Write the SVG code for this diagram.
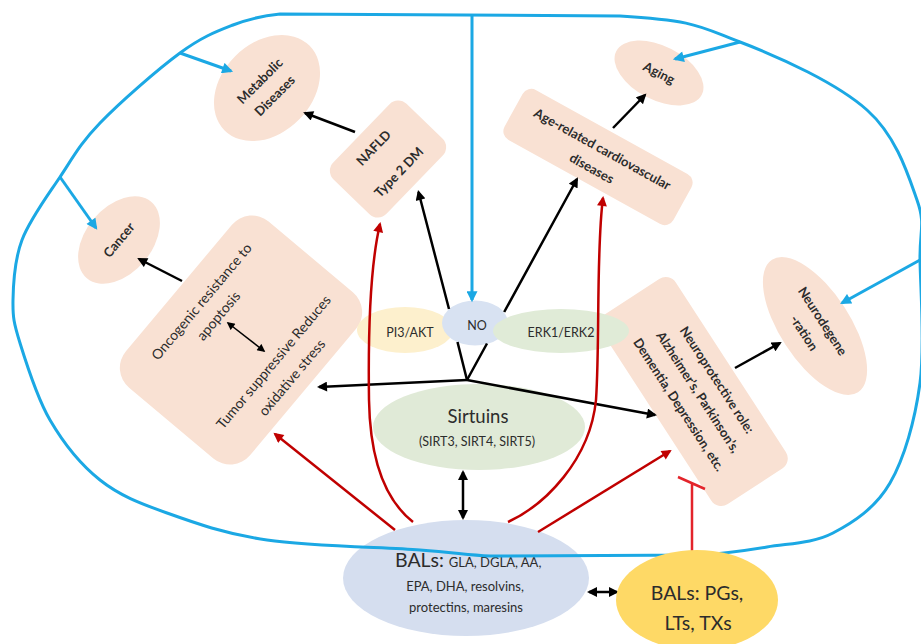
<svg xmlns="http://www.w3.org/2000/svg" width="921" height="644" viewBox="0 0 921 644">
<defs>
<style>
.peach{fill:#f9e1d3}
.lbl{font-family:Lato,"Open Sans","Liberation Sans",sans-serif;fill:#2c2c2c;text-anchor:middle}
.b{font-weight:bold}
.blk{stroke:#000;stroke-width:2.5;fill:none}
.thin{stroke-width:1.5}
.red{stroke:#c00000;stroke-width:2.5;fill:none}
.blu{stroke:#1ba8e4;stroke-width:3;fill:none}
</style>
<marker id="mk" viewBox="0 0 10 10" refX="8" refY="5" markerUnits="userSpaceOnUse" markerWidth="11" markerHeight="10" orient="auto-start-reverse"><path d="M0,0L10,5L0,10z" fill="#000"/></marker>
<marker id="mks" viewBox="0 0 10 10" refX="8" refY="5" markerUnits="userSpaceOnUse" markerWidth="9" markerHeight="8" orient="auto-start-reverse"><path d="M0,0L10,5L0,10z" fill="#000"/></marker>
<marker id="mr" viewBox="0 0 10 10" refX="8" refY="5" markerUnits="userSpaceOnUse" markerWidth="11" markerHeight="10" orient="auto"><path d="M0,0L10,5L0,10z" fill="#c00000"/></marker>
<marker id="mb" viewBox="0 0 10 10" refX="8" refY="5" markerUnits="userSpaceOnUse" markerWidth="12" markerHeight="11" orient="auto"><path d="M0,0L10,5L0,10z" fill="#1ba8e4"/></marker>
</defs>
<rect width="921" height="644" fill="#fff"/>
<g id="nodes">
<g id="metabolic" transform="translate(267,88) rotate(-45)">
<ellipse rx="60" ry="45" class="peach"/>
<text class="lbl b" font-size="13"><tspan x="0" y="-5.5">Metabolic</tspan><tspan x="0" y="15.5">Diseases</tspan></text>
</g>
<g id="nafld" transform="translate(388,159) rotate(-46)">
<rect x="-52.5" y="-37" width="105" height="74" rx="12" class="peach"/>
<text class="lbl b" font-size="13"><tspan x="-2" y="-13.5">NAFLD</tspan><tspan x="-2" y="21.5">Type 2 DM</tspan></text>
</g>
<g id="cancer" transform="translate(119,240) rotate(-50)">
<ellipse rx="50" ry="33" class="peach"/>
<text class="lbl b" font-size="13" x="0" y="4.5">Cancer</text>
</g>
<g id="oncogenic" transform="translate(241,340) rotate(-50)">
<rect x="-108.5" y="-81" width="217" height="162" rx="26" class="peach"/>
<text class="lbl" font-size="14"><tspan x="4" y="-50">Oncogenic resistance to</tspan><tspan x="4" y="-28">apoptosis</tspan><tspan x="4" y="44">Tumor suppressive Reduces</tspan><tspan x="4" y="68">oxidative stress</tspan></text>
</g>
<g id="agecardio" transform="translate(598,157) rotate(29)">
<rect x="-96.5" y="-28.5" width="193" height="57" rx="10" class="peach"/>
<text class="lbl b" font-size="13"><tspan x="0" y="-4.5">Age-related cardiovascular</tspan><tspan x="0" y="17.5">diseases</tspan></text>
</g>
<g id="aging" transform="translate(659,73) rotate(27)">
<ellipse rx="48" ry="27" class="peach"/>
<text class="lbl b" font-size="13" x="0" y="4.5">Aging</text>
</g>
<g id="neurodegeneration" transform="translate(815,326) rotate(57)">
<ellipse rx="79" ry="35" class="peach"/>
<text class="lbl b" font-size="13"><tspan x="0" y="-4.5">Neurodegene</tspan><tspan x="0" y="17.5">-ration</tspan></text>
</g>
<g id="neuroprotective" transform="translate(693.5,391.5) rotate(57)">
<rect x="-113" y="-44.5" width="226" height="89" rx="12" class="peach"/>
<text class="lbl b" font-size="13"><tspan x="3" y="-21.5">Neuroprotective role:</tspan><tspan x="3" y="1">Alzheimer’s, Parkinson’s,</tspan><tspan x="3" y="24">Dementia, Depression, etc.</tspan></text>
</g>
<g id="pi3akt">
<ellipse cx="405" cy="330" rx="48" ry="23" fill="#fdf0cd"/>
<text class="lbl" font-size="12.5" x="410" y="337">PI3/AKT</text>
</g>
<g id="no">
<ellipse cx="475" cy="323" rx="33" ry="22.5" fill="#d8e2f2"/>
<text class="lbl" font-size="12.5" x="477" y="330">NO</text>
</g>
<g id="erk">
<ellipse cx="561" cy="331" rx="68" ry="22" fill="#e0ebd7"/>
<text class="lbl" font-size="12.5" x="561" y="337">ERK1/ERK2</text>
</g>
<g id="sirtuins">
<ellipse cx="479" cy="427" rx="106" ry="43" fill="#e0ead7"/>
<text class="lbl" font-size="18.5" x="478" y="423">Sirtuins</text>
<text class="lbl" font-size="12.5" x="477" y="446">(SIRT3, SIRT4, SIRT5)</text>
</g>
<g id="bals-pufa">
<ellipse cx="466" cy="578" rx="123" ry="58" fill="#d5deef"/>
<text class="lbl" font-size="19.5" x="395" y="567" style="text-anchor:start">BALs: <tspan font-size="13">GLA, DGLA, AA,</tspan></text>
<text class="lbl" font-size="13" x="465" y="591">EPA, DHA, resolvins,</text>
<text class="lbl" font-size="13" x="466" y="612">protectins, maresins</text>
</g>
</g>
<g id="connectors">
<path class="blu" d="M280 14 L620 16 C696.7 20.7 698.8 26.3 740 42 C781.2 57.7 837.5 83.7 867 110 C896.5 136.3 908.2 175 917 200 C925.8 225 919.5 229.5 920 260 C920.5 290.5 925 345.8 920 383 C915 420.2 904.5 458 890 483 C875.5 508 853.5 522.3 833 533 C812.5 543.7 789.2 543.3 767 547 C744.8 550.7 721 553.7 700 555 L490 556 C466.7 555 457.2 552.7 420 550 C382.8 547.3 309.2 546.2 267 540 C224.8 533.8 194.8 523 167 513 C139.2 503 119.5 495.5 100 480 C80.5 464.5 63.3 442.8 50 420 C36.7 397.2 26.2 363 20 343 C13.8 323 12.7 317.2 13 300 C13.3 282.8 14.2 260.5 22 240 C29.8 219.5 47 196.5 60 177 C73 157.5 80 143.7 100 123 C120 102.3 157.8 69.3 180 53 C202.2 36.7 216.3 31.5 233 25 C249.7 18.5 262.2 15.8 280 14 Z"/>
<path class="blu" marker-end="url(#mb)" d="M472 15 L472 300"/>
<path class="blu" marker-end="url(#mb)" d="M180 53 L231 71"/>
<path class="blu" marker-end="url(#mb)" d="M60 177 L96 228"/>
<path class="blu" marker-end="url(#mb)" d="M740 42 L675 59"/>
<path class="blu" marker-end="url(#mb)" d="M920 260 L842 303"/>
<path class="blk" marker-end="url(#mk)" d="M355 132 L305 113"/>
<path class="blk" marker-end="url(#mk)" d="M182 281 L139 259"/>
<path class="blk" marker-end="url(#mk)" d="M613 128 L645 95"/>
<path class="blk" marker-end="url(#mk)" d="M735 368 L780 343"/>
<path class="blk" marker-end="url(#mk)" d="M467 380 L457.5 342 M449 309 L418.5 192"/>
<path class="blk" marker-end="url(#mk)" d="M467 380 L487 343.5 M504.2 312 L577 179"/>
<path class="blk" marker-end="url(#mk)" d="M467 380 L319 387"/>
<path class="blk" marker-end="url(#mk)" d="M467 380 L655 415"/>
<path class="blk" marker-start="url(#mk)" marker-end="url(#mk)" d="M463 472 L463 518"/>
<path class="blk" marker-start="url(#mk)" marker-end="url(#mk)" d="M589 592 L617 592"/>
<path class="blk thin" marker-start="url(#mks)" marker-end="url(#mks)" d="M228 323 L264 351"/>
<path class="red" marker-end="url(#mr)" d="M395 530 L275 434"/>
<path class="red" marker-end="url(#mr)" d="M413 522 C385 500 370 460 369 400 C368 330 371 262 380 224"/>
<path class="red" marker-end="url(#mr)" d="M508 522 C545 505 590 460 596 400 C600 340 596 250 603 198"/>
<path class="red" marker-end="url(#mr)" d="M538 532 L670 451"/>
<path stroke="#e3242b" stroke-width="2.5" fill="none" d="M692 556 L692 483 M678 477 L705 489"/>
</g>
<g id="bals-eicosanoids">
<ellipse cx="697" cy="600" rx="81" ry="50" fill="#fed966"/>
<text class="lbl" font-size="19.5" x="697" y="600">BALs: PGs,</text>
<text class="lbl" font-size="19.5" x="698" y="630">LTs, TXs</text>
</g>
</svg>
